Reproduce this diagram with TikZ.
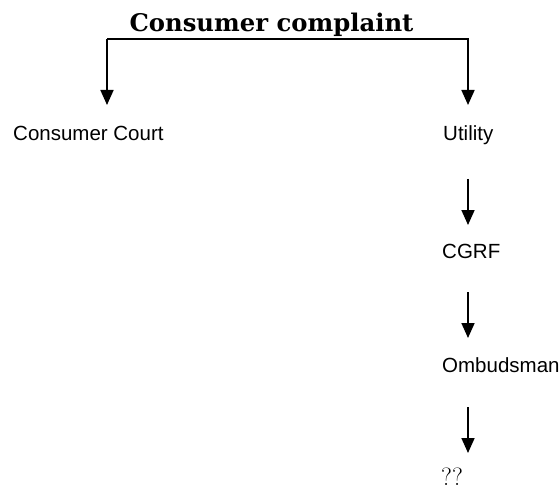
\documentclass[tikz,border=0pt]{standalone}
\usepackage{fontspec}
\setsansfont{Liberation Sans}
\newfontfamily\titlefont{DejaVu Serif}
\usetikzlibrary{arrows.meta}
\tikzset{
  arr/.style={line width=1.7pt, -{Triangle[length=15pt,width=13pt]}},
  lbl/.style={inner sep=0pt, anchor=base west, font=\fontsize{20.5}{24}\sffamily},
}
\begin{document}
\begin{tikzpicture}[x=1pt,y=-1pt]
\useasboundingbox (0,0) rectangle (559,489);
\node[inner sep=0pt, anchor=base, font=\fontsize{24.3}{28}\titlefont\bfseries] (title) at (271.5,32) {Consumer complaint};
\node[lbl] (cc) at (13,141) {Consumer Court};
\node[lbl] (util) at (443,141) {Utility};
\node[lbl] (cgrf) at (442,258) {CGRF};
\node[lbl] (omb) at (442,372) {Ombudsman};
\node[inner sep=0pt, anchor=base west, font=\fontsize{25}{30}\rmfamily] (qq) at (441,485) {??};
\coordinate (tl) at (107,39);
\coordinate (tr) at (468,39);
\coordinate (ccTip) at (107,105);
\coordinate (utTip) at (468,105);
\coordinate (a1s) at (468,179);
\coordinate (a1e) at (468,225);
\coordinate (a2s) at (468,292);
\coordinate (a2e) at (468,338);
\coordinate (a3s) at (468,407);
\coordinate (a3e) at (468,453);
\draw[arr] (tl) -- (ccTip);
\draw[arr] (tl) -- (tr) -- (utTip);
\draw[arr] (a1s) -- (a1e);
\draw[arr] (a2s) -- (a2e);
\draw[arr] (a3s) -- (a3e);
\end{tikzpicture}
\end{document}
